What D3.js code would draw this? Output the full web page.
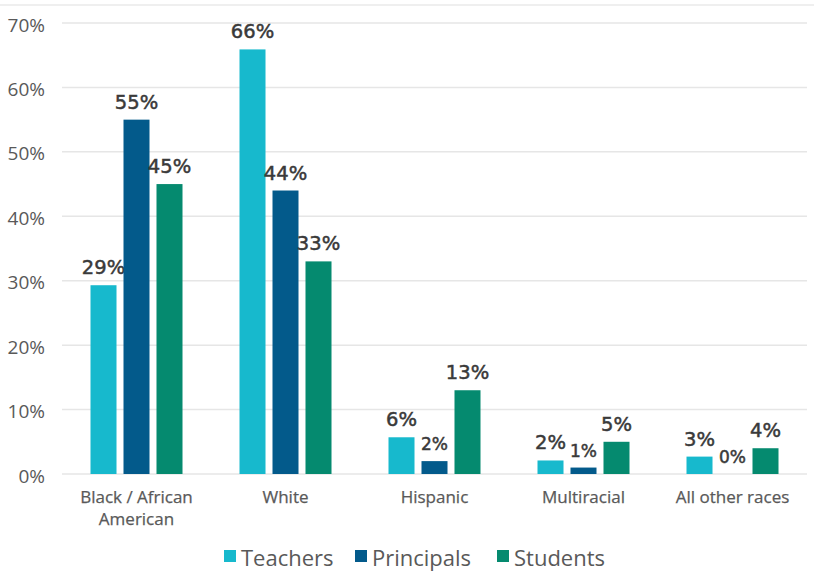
<!DOCTYPE html>
<html>
<head>
<meta charset="utf-8">
<script src="https://cdn.jsdelivr.net/npm/d3@7"></script>
<style>
  body { margin: 0; background: white; }
</style>
</head>
<body>
<div id="container"></div>
<script>
let w = 814;
let h = 579;

// data
let categories = ["Black / African American", "White", "Hispanic", "Multiracial", "All other races"];
let series = ["Teachers", "Principals", "Students"];
let teachers = [29.3, 65.9, 5.7, 2.1, 2.7];
let principals = [55, 44, 2, 1, 0];
let students = [45, 33, 13, 5, 4];
let yTicks = [0, 10, 20, 30, 40, 50, 60, 70];

let values = [teachers, principals, students];
let colors = ["#17b9cd", "#035a8b", "#058a6f"];
let textColor = "#595959";
let font = "'Open Sans', sans-serif";
let labelFont = "'DejaVu Sans', sans-serif";

let viz = d3.select("#container")
  .append("svg")
  .attr("width", w)
  .attr("height", h)
  .style("background-color", "white");

// thin line along the top
viz.append("line")
  .attr("x1", 0).attr("x2", w)
  .attr("y1", 5).attr("y2", 5)
  .attr("stroke", "#efefef")
  .attr("stroke-width", 2);

let xScale = d3.scaleBand().domain(categories).range([62, 807]);
let x1 = d3.scaleBand().domain(series).range([28.5, 120.5]).paddingInner(0.212);
let yScale = d3.scaleLinear().domain([0, 70]).range([474, 23]);

// gridlines
viz.selectAll(".grid").data(yTicks).enter()
  .append("line")
  .attr("class", "grid")
  .attr("x1", 62)
  .attr("x2", 807)
  .attr("y1", d => yScale(d))
  .attr("y2", d => yScale(d))
  .attr("stroke", "#e6e6e6")
  .attr("stroke-width", 1.5);

// y labels
viz.selectAll(".ylabel").data(yTicks).enter()
  .append("text")
  .attr("class", "ylabel")
  .text(d => d + "%")
  .attr("x", 45)
  .attr("y", d => yScale(d) + 8.5)
  .attr("text-anchor", "end")
  .attr("font-size", "19px")
  .attr("font-family", font)
  .attr("fill", textColor);

// x labels
let xlabels = viz.selectAll(".xlabel").data(categories).enter()
  .append("text")
  .attr("class", "xlabel")
  .attr("text-anchor", "middle")
  .attr("font-size", "17px")
  .attr("font-family", font)
  .attr("fill", textColor)
  .attr("stroke", textColor)
  .attr("stroke-width", 0.25);

xlabels.each(function(d) {
  let cx = xScale(d) + xScale.bandwidth() / 2;
  let lines = d == "Black / African American" ? ["Black / African", "American"] : [d];
  d3.select(this).selectAll("tspan").data(lines).enter()
    .append("tspan")
    .attr("x", cx)
    .attr("y", (l, i) => 503 + i * 22)
    .text(l => l);
});

// bars
series.forEach(function(s, si) {
  let g = viz.append("g").attr("class", "series");
  let rows = categories.map((c, i) => ({ cat: c, v: values[si][i] }));

  g.selectAll("rect").data(rows).enter()
    .append("rect")
    .attr("x", d => xScale(d.cat) + x1(s))
    .attr("y", d => yScale(d.v))
    .attr("width", x1.bandwidth())
    .attr("height", d => yScale(0) - yScale(d.v))
    .attr("fill", colors[si]);

  g.selectAll("text").data(rows).enter()
    .append("text")
    .text(d => Math.round(d.v) + "%")
    .attr("x", d => xScale(d.cat) + x1(s) + x1.bandwidth() / 2)
    .attr("y", d => yScale(d.v) - 11)
    .attr("text-anchor", "middle")
    .attr("font-size", d => (s == "Principals" && d.v < 5) ? "17px" : "19.5px")
    .attr("font-family", labelFont)
    .attr("fill", "#3a3a3a")
    .attr("stroke", "#3a3a3a")
    .attr("stroke-width", 0.5);
});

// legend
let legendX = [224, 355, 497];
let legend = viz.selectAll(".legend").data(series).enter()
  .append("g")
  .attr("class", "legend")
  .attr("transform", (d, i) => "translate(" + legendX[i] + ", 0)");

legend.append("rect")
  .attr("x", 0)
  .attr("y", 550)
  .attr("width", 12)
  .attr("height", 12)
  .attr("fill", (d, i) => colors[i]);

legend.append("text")
  .text(d => d)
  .attr("x", 17)
  .attr("y", 566)
  .attr("font-size", "22px")
  .attr("font-family", font)
  .attr("fill", textColor);
</script>
</body>
</html>
